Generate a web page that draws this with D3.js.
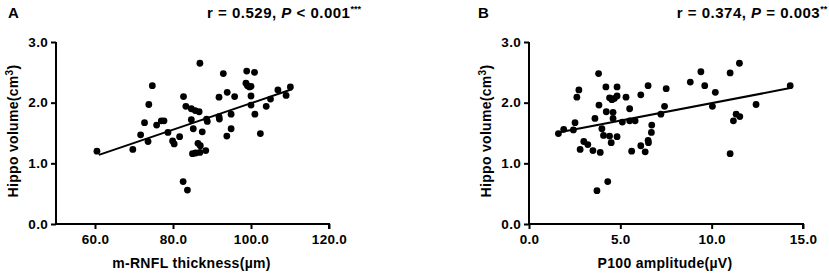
<!DOCTYPE html>
<html>
<head>
<meta charset="utf-8">
<script src="https://cdn.jsdelivr.net/npm/d3@7"></script>
<style>
  body { margin: 0; background: #fff; }
  svg { display: block; font-family: "Liberation Sans", Arial, sans-serif; font-weight: bold; }
</style>
</head>
<body>
<div id="chart"></div>
<script>
// --- DATA ---
// panel A: m-RNFL thickness (um) vs hippocampus volume (cm3)
const rnflX = [60.5, 69.7, 71.7, 72.7, 73.6, 73.8, 74.7, 75.8, 77.0, 77.7, 78.7, 79.9, 80.3, 81.7,
  82.6, 82.7, 83.3, 83.7, 84.7, 84.7, 85.2, 85.0, 85.7, 85.8, 86.4, 86.7, 86.9, 86.9, 87.0, 87.5,
  88.4, 88.6, 88.8, 91.8, 91.8, 91.9, 92.9, 93.8, 93.9, 94.9, 94.9, 95.8, 98.7, 98.9, 99.1, 99.6,
  100.0, 100.0, 100.0, 100.9, 101.0, 102.4, 103.9, 105.0, 106.9, 109.0, 110.1];
const rnflY = [1.20, 1.23, 1.47, 1.67, 1.36, 1.97, 2.28, 1.63, 1.70, 1.70, 1.51, 1.37, 1.32, 1.44,
  0.70, 2.10, 1.94, 0.56, 1.90, 1.72, 1.57, 1.16, 1.87, 1.17, 1.33, 1.85, 2.65, 1.18, 1.29, 1.52,
  1.21, 1.73, 1.69, 2.09, 1.77, 1.73, 2.48, 1.45, 2.17, 1.81, 1.57, 2.10, 2.32, 2.52, 2.28, 2.26,
  2.27, 2.11, 1.96, 2.50, 1.81, 1.49, 1.94, 2.06, 2.21, 2.12, 2.26];
const rnflFitX = [61.0, 110.5];
const rnflFitY = [1.14, 2.22];

// panel B: P100 amplitude (uV) vs hippocampus volume (cm3)
const p100X = [1.61, 1.90, 2.43, 2.52, 2.62, 2.73, 2.80, 3.00, 3.22, 3.50, 3.61, 3.72, 3.81, 3.83,
  3.90, 3.99, 4.08, 4.21, 4.23, 4.31, 4.41, 4.41, 4.50, 4.54, 4.60, 4.60, 4.67, 4.82, 4.82, 4.82,
  5.11, 5.31, 5.51, 5.51, 5.62, 5.81, 6.12, 6.12, 6.36, 6.52, 6.52, 6.54, 6.70, 6.72, 7.22, 7.42,
  7.51, 8.83, 9.41, 9.62, 10.04, 10.20, 11.01, 11.01, 11.19, 11.34, 11.54, 11.52, 12.43, 14.30];
const p100Y = [1.49, 1.56, 1.55, 1.67, 2.09, 2.21, 1.23, 1.36, 1.31, 1.21, 1.74, 0.55, 2.48, 1.96,
  1.18, 1.57, 1.46, 2.26, 1.85, 0.70, 2.08, 1.45, 1.34, 2.05, 1.84, 1.74, 2.07, 2.26, 2.11, 1.44,
  1.68, 2.09, 1.90, 1.70, 1.20, 1.70, 2.13, 1.29, 1.19, 2.28, 1.38, 1.34, 1.51, 1.63, 1.81, 1.94,
  2.23, 2.34, 2.51, 2.28, 1.94, 2.17, 2.49, 1.16, 1.70, 1.81, 1.77, 2.65, 1.97, 2.28];
const p100FitX = [1.6, 14.3];
const p100FitY = [1.51, 2.24];

const yTicks = [0, 1, 2, 3];
const rnflTicks = [60, 80, 100, 120];
const p100Ticks = [0, 5, 10, 15];

// --- LAYOUT ---
const W = 829, H = 275;
const svg = d3.select("#chart").append("svg").attr("width", W).attr("height", H);

function panel(opt) {
  const g = svg.append("g");
  const x = d3.scaleLinear().domain(opt.xDomain).range(opt.xRange);
  const y = d3.scaleLinear().domain([0, 3]).range([224, 42]);

  // axes
  const xa = g.append("g").attr("transform", `translate(0,${y(0)})`)
    .call(d3.axisBottom(x).tickValues(opt.xTicks).tickSize(5).tickPadding(5).tickFormat(d3.format(".1f")));
  const ya = g.append("g").attr("transform", `translate(${x(opt.xDomain[0])},0)`)
    .call(d3.axisLeft(y).tickValues(yTicks).tickSize(5).tickPadding(3).tickFormat(d3.format(".1f")));
  [xa, ya].forEach(a => {
    a.select(".domain").attr("stroke", "#000").attr("stroke-width", 2);
    a.selectAll(".tick line").attr("stroke", "#000").attr("stroke-width", 2);
    a.selectAll(".tick text").attr("fill", "#000").style("font-size", "13.5px").style("font-weight", "bold")
      .style("letter-spacing", "0.3px").style("font-family", "Liberation Sans, Arial, sans-serif");
  });
  xa.select(".domain").attr("d", `M${opt.xRange[0]},0H${opt.xRange[1]}V5`);
  ya.select(".domain").attr("d", `M0,${y(0)}V${y(3)}`);

  // fit line
  g.append("line")
    .attr("x1", x(opt.fitX[0])).attr("y1", y(opt.fitY[0]))
    .attr("x2", x(opt.fitX[1])).attr("y2", y(opt.fitY[1]))
    .attr("stroke", "#000").attr("stroke-width", 2);

  // points
  g.append("g").selectAll("circle").data(opt.xs.map((v, i) => [v, opt.ys[i]]))
    .join("circle")
    .attr("cx", d => x(d[0])).attr("cy", d => y(d[1])).attr("r", 3.4).attr("fill", "#000");

  // panel letter
  g.append("text").attr("x", opt.letterX).attr("y", 18).style("font-size", "15px").text(opt.letter);

  // stats title
  const t = g.append("text").attr("x", opt.statX).attr("y", 18).attr("text-anchor", "middle")
    .style("font-size", "15px").style("letter-spacing", "0.5px");
  t.append("tspan").text(opt.stat[0]);
  t.append("tspan").style("font-style", "italic").text("P");
  t.append("tspan").text(opt.stat[1]);
  t.append("tspan").attr("dy", -6).style("font-size", "9px").style("letter-spacing", "0").text(opt.stars);

  // x title
  g.append("text").attr("x", (opt.xRange[0] + opt.xRange[1]) / 2 - 1).attr("y", 268)
    .attr("text-anchor", "middle").style("font-size", "14px").style("letter-spacing", "0.3px").text(opt.xTitle);

  // y title
  const yt = g.append("text").attr("transform", `translate(${opt.yTitleX},${131}) rotate(-90)`)
    .attr("text-anchor", "middle").style("font-size", "14px").style("letter-spacing", "0.3px");
  yt.append("tspan").text("Hippo volume(cm");
  yt.append("tspan").attr("dy", -5).style("font-size", "10px").text("3");
  yt.append("tspan").attr("dy", 5).text(")");
}

panel({
  xs: rnflX, ys: rnflY, fitX: rnflFitX, fitY: rnflFitY,
  xDomain: [50, 120], xRange: [56, 329], xTicks: rnflTicks,
  letter: "A", letterX: 8, statX: 284,
  stat: ["r = 0.529, ", " < 0.001"], stars: "***",
  xTitle: "m-RNFL thickness(\u00b5m)", yTitleX: 18
});

panel({
  xs: p100X, ys: p100Y, fitX: p100FitX, fitY: p100FitY,
  xDomain: [0, 15], xRange: [529, 803], xTicks: p100Ticks,
  letter: "B", letterX: 478, statX: 752,
  stat: ["r = 0.374, ", " = 0.003"], stars: "**",
  xTitle: "P100 amplitude(\u00b5V)", yTitleX: 491
});
</script>
</body>
</html>
